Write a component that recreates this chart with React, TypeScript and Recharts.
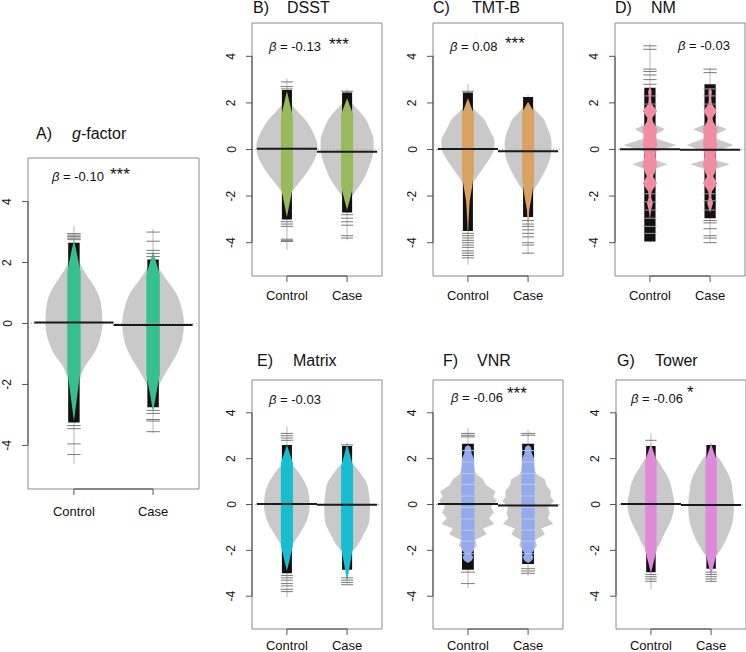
import React from 'react';
import { ComposedChart, XAxis, YAxis, Area, Scatter, ReferenceLine, ReferenceArea } from 'recharts';

type Pair = [number, number];

const groupLabels = ['Control', 'Case'];
const yTickValues = [-4, -2, 0, 2, 4];
const xTickValues = [1, 2];

// ---------- A) g-factor ----------
const gfCtrlDensity: Pair[] = [[-2.6,0],[-2.2,0.03],[-1.8,0.08],[-1.4,0.14],[-1.0,0.25],[-0.5,0.33],[0,0.36],[0.5,0.35],[1.0,0.3],[1.4,0.21],[1.8,0.11],[2.2,0.04],[2.6,0]];
const gfCaseDensity: Pair[] = [[-2.6,0],[-2.2,0.05],[-1.8,0.12],[-1.4,0.21],[-1.0,0.3],[-0.5,0.37],[0,0.39],[0.5,0.36],[1.0,0.29],[1.4,0.18],[1.8,0.08],[2.2,0.02],[2.5,0]];
const gfCtrlBean: Pair[] = [[-3.2,0],[-2.6,0.03],[-2.0,0.06],[-1.55,0.085],[1.7,0.085],[2.2,0.045],[2.75,0]];
const gfCaseBean: Pair[] = [[-2.9,0],[-2.3,0.04],[-1.7,0.085],[1.6,0.085],[2.0,0.04],[2.35,0]];
const gfCtrlRug = [2.95, 2.9, 2.85, 2.8, 2.75, -3.35, -3.45, -3.95, -4.3];
const gfCaseRug = [3.0, 2.7, 2.4, 2.3, 2.2, -2.85, -2.95, -3.15, -3.2, -3.55];
const gfDense: Pair[] = [[-3.25, 2.65], [-2.75, 2.1]];
const gfRange: Pair[] = [[-4.6, 3.2], [-3.6, 3.1]];
const gfMeans = [0.03, -0.05];

// ---------- B) DSST ----------
const dsCtrlDensity: Pair[] = [[-2.2,0],[-1.9,0.06],[-1.6,0.15],[-1.3,0.24],[-0.8,0.38],[-0.3,0.48],[0.1,0.51],[0.6,0.46],[1.0,0.38],[1.3,0.3],[1.6,0.19],[1.9,0.09],[2.2,0.02],[2.4,0]];
const dsCaseDensity: Pair[] = [[-2.4,0],[-2.1,0.06],[-1.8,0.14],[-1.3,0.27],[-0.7,0.37],[0,0.44],[0.4,0.44],[0.9,0.38],[1.3,0.31],[1.6,0.22],[1.9,0.11],[2.2,0.03],[2.4,0]];
const dsCtrlBean: Pair[] = [[-2.9,0],[-1.6,0.1],[1.4,0.1],[2.5,0]];
const dsCaseBean: Pair[] = [[-2.6,0],[-1.6,0.1],[1.5,0.1],[2.2,0]];
const dsCtrlRug = [2.9, 2.7, 2.6, -3.1, -3.2, -3.3, -3.85, -3.9, -3.95];
const dsCaseRug = [2.5, -2.8, -2.95, -3.1, -3.25, -3.7, -3.8];
const dsDense: Pair[] = [[-3.0, 2.55], [-2.7, 2.45]];
const dsRange: Pair[] = [[-4.3, 3.05], [-3.9, 2.6]];
const dsMeans = [0.03, -0.1];

// ---------- C) TMT-B ----------
const tmCtrlDensity: Pair[] = [[-1.8,0],[-1.6,0.04],[-1.3,0.12],[-1.0,0.2],[-0.7,0.28],[-0.3,0.38],[0.1,0.44],[0.4,0.44],[0.7,0.39],[1.0,0.33],[1.3,0.27],[1.6,0.15],[1.9,0.05],[2.1,0]];
const tmCaseDensity: Pair[] = [[-2.1,0],[-1.8,0.08],[-1.3,0.2],[-0.7,0.32],[-0.2,0.38],[0.2,0.39],[0.7,0.36],[1.0,0.31],[1.3,0.26],[1.7,0.12],[2.0,0.03],[2.2,0]];
const tmCtrlBean: Pair[] = [[-3.9,0],[-3.0,0.012],[-2.2,0.03],[-1.6,0.07],[-1.0,0.1],[1.5,0.1],[2.2,0]];
const tmCaseBean: Pair[] = [[-3.6,0],[-2.6,0.02],[-2.0,0.06],[-1.3,0.1],[1.6,0.1],[2.05,0]];
const tmCtrlRug = [2.5, -3.6, -3.7, -3.8, -3.9, -4.0, -4.1, -4.2, -4.35, -4.45, -4.55, -4.65];
const tmCaseRug = [-3.05, -3.2, -3.3, -3.45, -3.6, -3.75, -4.0, -4.1, -4.45];
const tmDense: Pair[] = [[-3.5, 2.45], [-2.9, 2.25]];
const tmRange: Pair[] = [[-4.95, 2.8], [-4.5, 2.35]];
const tmMeans = [0.02, -0.07];

// ---------- D) NM ----------
const nmCtrlDensity: Pair[] = [[-1.1,0],[-0.85,0.08],[-0.63,0.29],[-0.45,0.09],[-0.1,0.1],[0.19,0.44],[0.45,0.12],[0.65,0.1],[0.87,0.25],[1.1,0.06],[1.3,0]];
const nmCaseDensity: Pair[] = [[-1.1,0],[-0.85,0.08],[-0.63,0.33],[-0.45,0.09],[-0.1,0.1],[0.19,0.39],[0.45,0.12],[0.65,0.1],[0.87,0.28],[1.1,0.06],[1.3,0]];
const nmCtrlBean: Pair[] = [[-3.0,0],[-2.6,0.02],[-2.3,0.05],[-2.05,0.02],[-1.8,0.03],[-1.45,0.12],[-1.15,0.05],[-1.0,0.08],[-0.65,0.12],[-0.3,0.09],[0,0.1],[0.2,0.12],[0.5,0.1],[0.9,0.12],[1.2,0.05],[1.35,0.04],[1.65,0.12],[1.95,0.03],[2.2,0.02],[2.5,0.03],[2.7,0]];
const nmCaseBean: Pair[] = [[-2.7,0],[-2.3,0.05],[-2.05,0.02],[-1.8,0.03],[-1.45,0.12],[-1.15,0.05],[-1.0,0.08],[-0.65,0.12],[-0.3,0.09],[0,0.1],[0.2,0.12],[0.5,0.1],[0.9,0.12],[1.2,0.05],[1.35,0.04],[1.65,0.11],[1.95,0.03],[2.2,0.02],[2.5,0.03],[2.65,0]];
const nmCtrlRug = [4.45, 4.3, 3.45, 3.35, 3.2, 3.0, 2.8];
const nmCaseRug = [3.45, 3.3, -3.05, -3.15, -3.4, -3.7, -3.8, -4.0];
const nmCtrlStripes = [-3.6, -3.3, -2.95, -2.6, -2.25, -1.9, 1.95, 2.3];
const nmCaseStripes = [-2.6, -2.2, -1.9, 1.95, 2.3, 2.6];
const nmDense: Pair[] = [[-3.95, 2.65], [-2.95, 2.8]];
const nmRange: Pair[] = [[-4.0, 4.55], [-4.0, 3.5]];
const nmMeans = [0.01, -0.01];

// ---------- E) Matrix ----------
const mxCtrlDensity: Pair[] = [[-2.0,0],[-1.72,0.1],[-1.28,0.21],[-0.7,0.33],[0,0.38],[0.5,0.36],[0.9,0.31],[1.48,0.17],[1.77,0.08],[2.0,0]];
const mxCaseDensity: Pair[] = [[-2.4,0],[-2.15,0.05],[-1.86,0.15],[-1.28,0.28],[-0.7,0.37],[0,0.38],[0.5,0.36],[0.9,0.33],[1.48,0.19],[1.77,0.1],[2.1,0]];
const mxCtrlBean: Pair[] = [[-2.9,0],[-1.8,0.1],[1.8,0.1],[2.6,0]];
const mxCaseBean: Pair[] = [[-3.35,0],[-1.85,0.1],[1.65,0.1],[2.65,0]];
const mxCtrlRug = [3.1, 3.0, 2.9, 2.8, -3.1, -3.2, -3.3, -3.45, -3.55, -3.7, -3.8];
const mxCaseRug = [2.6, -3.2, -3.3, -3.4, -3.5];
const mxDense: Pair[] = [[-3.0, 2.6], [-2.85, 2.55]];
const mxRange: Pair[] = [[-4.05, 3.4], [-3.5, 2.7]];
const mxMeans = [0.02, -0.01];

// ---------- F) VNR ----------
const vnCtrlDensity: Pair[] = [[-2.2,0],[-1.8,0.15],[-1.55,0.12],[-1.3,0.31],[-1.05,0.25],[-0.85,0.44],[-0.6,0.35],[-0.35,0.43],[-0.1,0.38],[0.15,0.48],[0.35,0.42],[0.58,0.46],[0.85,0.3],[1.1,0.25],[1.3,0.15],[1.6,0.08],[1.9,0]];
const vnCaseDensity: Pair[] = [[-2.2,0],[-1.8,0.15],[-1.55,0.12],[-1.3,0.28],[-1.05,0.22],[-0.85,0.42],[-0.6,0.33],[-0.35,0.36],[-0.1,0.33],[0.15,0.43],[0.35,0.37],[0.58,0.38],[0.85,0.3],[1.1,0.28],[1.3,0.15],[1.6,0.08],[1.9,0]];
const vnCtrlBean: Pair[] = [[-2.55,0],[-2.45,0.06],[-2.3,0.09],[-2.15,0.05],[-2.0,0.1],[-1.6,0.11],[1.5,0.11],[1.85,0.1],[2.0,0.1],[2.25,0.06],[2.5,0.05],[2.6,0]];
const vnCaseBean: Pair[] = [[-2.55,0],[-2.45,0.06],[-2.3,0.09],[-2.15,0.05],[-2.0,0.1],[-1.6,0.11],[1.5,0.11],[1.85,0.1],[2.0,0.1],[2.25,0.06],[2.5,0.05],[2.6,0]];
const vnSeparators = [2.35, 1.85, 1.35, 0.87, 0.37, -0.13, -0.63, -1.12, -1.6, -2.15];
const vnCtrlRug = [3.1, 3.02, 2.95, -2.95, -3.45];
const vnCaseRug = [3.1, 3.02, -2.8, -2.9, -3.0];
const vnDense: Pair[] = [[-2.85, 2.65], [-2.6, 2.65]];
const vnRange: Pair[] = [[-3.65, 3.35], [-3.1, 3.25]];
const vnMeans = [0.02, -0.04];

// ---------- G) Tower ----------
const twCtrlDensity: Pair[] = [[-2.2,0],[-1.88,0.11],[-1.3,0.22],[-0.71,0.33],[0,0.39],[0.5,0.36],[1.03,0.31],[1.6,0.19],[2.05,0.08],[2.3,0]];
const twCaseDensity: Pair[] = [[-2.5,0],[-2.3,0.07],[-1.88,0.18],[-1.3,0.29],[-0.71,0.36],[0,0.38],[0.5,0.36],[1.03,0.33],[1.6,0.23],[2.05,0.12],[2.4,0]];
const twCtrlBean: Pair[] = [[-3.0,0],[-2.0,0.095],[1.9,0.095],[2.65,0]];
const twCaseBean: Pair[] = [[-3.1,0],[-2.1,0.095],[1.9,0.095],[2.65,0]];
const twCtrlRug = [2.8, -3.05, -3.15, -3.25, -3.35];
const twCaseRug = [-2.95, -3.05, -3.15, -3.25, -3.35];
const twDense: Pair[] = [[-2.95, 2.55], [-2.8, 2.6]];
const twRange: Pair[] = [[-3.7, 3.1], [-3.4, 2.7]];
const twMeans = [0.02, -0.02];

const FONT = '"Liberation Sans", Arial, Helvetica, sans-serif';
const X_DOMAIN: [number, number] = [0.42, 2.58];
const Y_DOMAIN: [number, number] = [-5.43, 5.43];
const GRAY = '#c9c9c9';

type PanelCfg = {
  letter: string; name: string; italicPrefix?: string; color: string;
  beta: string; stars: string;
  box: { x: number; y: number; w: number; h: number };
  rugHalf: number; curve: 'monotone' | 'linear';
  density: Pair[][]; bean: Pair[][]; rug: number[][]; dense: Pair[]; range: Pair[]; means: number[];
  stripes?: number[][]; stripeColor?: string;
  titleX: [number, number]; titleY: number;
  betaX: number; betaY: number; starsX?: number; starsY?: number;
  labelOffset: number;
};

const panels: PanelCfg[] = [
  { letter: 'A)', name: '-factor', italicPrefix: 'g', color: '#36c08e', beta: '-0.10', stars: '***',
    box: { x: 28, y: 158, w: 171, h: 331 }, rugHalf: 0.085, curve: 'monotone',
    density: [gfCtrlDensity, gfCaseDensity], bean: [gfCtrlBean, gfCaseBean], rug: [gfCtrlRug, gfCaseRug],
    dense: gfDense, range: gfRange, means: gfMeans,
    titleX: [36, 72], titleY: 139, betaX: 52, betaY: 181, starsX: 110, starsY: 179.5, labelOffset: 27 },
  { letter: 'B)', name: 'DSST', color: '#98ba5a', beta: '-0.13', stars: '***',
    box: { x: 252, y: 23, w: 130, h: 253 }, rugHalf: 0.1, curve: 'monotone',
    density: [dsCtrlDensity, dsCaseDensity], bean: [dsCtrlBean, dsCaseBean], rug: [dsCtrlRug, dsCaseRug],
    dense: dsDense, range: dsRange, means: dsMeans,
    titleX: [253, 287], titleY: 13, betaX: 269, betaY: 51, starsX: 329, starsY: 50, labelOffset: 23.5 },
  { letter: 'C)', name: 'TMT-B', color: '#d9a262', beta: '0.08', stars: '***',
    box: { x: 433, y: 23, w: 130, h: 253 }, rugHalf: 0.1, curve: 'monotone',
    density: [tmCtrlDensity, tmCaseDensity], bean: [tmCtrlBean, tmCaseBean], rug: [tmCtrlRug, tmCaseRug],
    dense: tmDense, range: tmRange, means: tmMeans,
    titleX: [433, 472], titleY: 13, betaX: 450, betaY: 51, starsX: 505, starsY: 49, labelOffset: 23.5 },
  { letter: 'D)', name: 'NM', color: '#f08da2', beta: '-0.03', stars: '',
    box: { x: 615, y: 23, w: 130, h: 253 }, rugHalf: 0.11, curve: 'linear',
    density: [nmCtrlDensity, nmCaseDensity], bean: [nmCtrlBean, nmCaseBean], rug: [nmCtrlRug, nmCaseRug],
    dense: nmDense, range: nmRange, means: nmMeans, stripes: [nmCtrlStripes, nmCaseStripes], stripeColor: '#9a9a9a',
    titleX: [615, 651], titleY: 13, betaX: 678, betaY: 50, labelOffset: 23.5 },
  { letter: 'E)', name: 'Matrix', color: '#17bdd1', beta: '-0.03', stars: '',
    box: { x: 252, y: 380, w: 130, h: 249 }, rugHalf: 0.1, curve: 'monotone',
    density: [mxCtrlDensity, mxCaseDensity], bean: [mxCtrlBean, mxCaseBean], rug: [mxCtrlRug, mxCaseRug],
    dense: mxDense, range: mxRange, means: mxMeans,
    titleX: [257, 293], titleY: 366, betaX: 269, betaY: 404, labelOffset: 20.5 },
  { letter: 'F)', name: 'VNR', color: '#93aaee', beta: '-0.06', stars: '***',
    box: { x: 433, y: 380, w: 130, h: 249 }, rugHalf: 0.115, curve: 'linear',
    density: [vnCtrlDensity, vnCaseDensity], bean: [vnCtrlBean, vnCaseBean], rug: [vnCtrlRug, vnCaseRug],
    dense: vnDense, range: vnRange, means: vnMeans, stripes: [vnSeparators, vnSeparators], stripeColor: GRAY,
    titleX: [443, 477], titleY: 366, betaX: 451, betaY: 402, starsX: 507, starsY: 399, labelOffset: 20.5 },
  { letter: 'G)', name: 'Tower', color: '#dd8ad8', beta: '-0.06', stars: '*',
    box: { x: 616, y: 380, w: 130, h: 249 }, rugHalf: 0.095, curve: 'monotone',
    density: [twCtrlDensity, twCaseDensity], bean: [twCtrlBean, twCaseBean], rug: [twCtrlRug, twCaseRug],
    dense: twDense, range: twRange, means: twMeans,
    titleX: [617, 655], titleY: 366, betaX: 631, betaY: 403, starsX: 687, starsY: 397.5, labelOffset: 20.5 },
];

const LEFT = 35;
const TOP = 5;
const RIGHT = 5;
const BOTTOM = 35;

function rangeRows(pairs: Pair[], c: number) {
  return pairs.map(([y, w]) => ({ y, v: [c - w, c + w] }));
}

function Panel({ p }: { p: PanelCfg }) {
  const { box } = p;
  const pxPerUnit = box.w / (X_DOMAIN[1] - X_DOMAIN[0]);
  const rugPx = p.rugHalf * pxPerUnit;
  // the dense rug block is inset by one pixel so the bean fully covers it where it is at full width
  const denseHalf = p.rugHalf - 1 / pxPerUnit;
  const centers = [1, 2];
  const lineShape = (color: string) => (s: any) => (
    <line x1={s.cx - rugPx} x2={s.cx + rugPx} y1={s.cy} y2={s.cy} stroke={color} strokeWidth={1} />
  );
  const xTick = (t: any) => (
    <text x={t.x} y={t.y + p.labelOffset - 6} textAnchor="middle" fontSize={13} fill="#111" fontFamily={FONT}>
      {groupLabels[Math.round(t.payload.value) - 1]}
    </text>
  );
  const yTick = (t: any) => {
    const bx = t.x - 10.5;
    return (
      <text x={bx} y={t.y} transform={`rotate(-90 ${bx} ${t.y})`} textAnchor="middle" fontSize={12} fill="#111" fontFamily={FONT}>
        {t.payload.value}
      </text>
    );
  };
  return (
    <div style={{ position: 'absolute', left: box.x - LEFT, top: box.y - TOP }}>
      <ComposedChart layout="vertical" width={LEFT + box.w + RIGHT} height={TOP + box.h + BOTTOM}
        margin={{ top: TOP, right: RIGHT, bottom: 0, left: 0 }}>
        <XAxis type="number" domain={X_DOMAIN} ticks={xTickValues} allowDataOverflow height={BOTTOM}
          axisLine={false} tickSize={6} tickMargin={0} interval={0} tickLine={{ stroke: '#555' }} tick={xTick} />
        <YAxis type="number" dataKey="y" domain={Y_DOMAIN} ticks={yTickValues} allowDataOverflow width={LEFT} reversed
          axisLine={false} tickSize={6} tickMargin={0} interval={0} tickLine={{ stroke: '#555' }} tick={yTick} />
        <ReferenceLine y={0} stroke="#b0b0b0" strokeDasharray="1 2" />
        {centers.map((c, i) => (
          <Area key={'rng' + i} data={[{ y: p.range[i][0], v: [c, c] }, { y: p.range[i][1], v: [c, c] }]}
            dataKey="v" type="linear" stroke="#cfcfcf" strokeWidth={1} fill="none" isAnimationActive={false} />
        ))}
        {centers.map((c, i) => (
          <Area key={'den' + i} data={rangeRows(p.density[i], c)} dataKey="v" type={p.curve}
            stroke="none" fill={GRAY} fillOpacity={1} isAnimationActive={false} />
        ))}
        {centers.map((c, i) => (
          <Area key={'dense' + i} data={rangeRows([[p.dense[i][0], denseHalf], [p.dense[i][1], denseHalf]], c)}
            dataKey="v" type="linear" stroke="none" fill="#111" fillOpacity={1} isAnimationActive={false} />
        ))}
        {centers.map((c, i) => (
          <Scatter key={'rug' + i} data={p.rug[i].map((y) => ({ x: c, y }))} dataKey="x"
            shape={lineShape('#7a7a7a')} isAnimationActive={false} />
        ))}
        {p.stripes && p.stripeColor !== GRAY && centers.map((c, i) => (
          <Scatter key={'str' + i} data={p.stripes![i].map((y) => ({ x: c, y }))} dataKey="x"
            shape={lineShape(p.stripeColor!)} isAnimationActive={false} />
        ))}
        {centers.map((c, i) => (
          <Area key={'bean' + i} data={rangeRows(p.bean[i], c)} dataKey="v" type="linear"
            stroke="none" fill={p.color} fillOpacity={1} isAnimationActive={false} />
        ))}
        {p.stripes && p.stripeColor === GRAY && centers.map((c, i) => (
          <Scatter key={'sep' + i} data={p.stripes![i].map((y) => ({ x: c, y }))} dataKey="x"
            shape={lineShape(p.stripeColor!)} isAnimationActive={false} />
        ))}
        {centers.map((c, i) => (
          <ReferenceLine key={'mean' + i} segment={[{ x: c - 0.5, y: p.means[i] }, { x: c + 0.5, y: p.means[i] }]}
            stroke="#1a1a1a" strokeWidth={2} />
        ))}
        <ReferenceArea x1={X_DOMAIN[0]} x2={X_DOMAIN[1]} y1={Y_DOMAIN[0]} y2={Y_DOMAIN[1]}
          fill="none" fillOpacity={0} stroke="#8a8a8a" strokeWidth={1} />
        <ReferenceLine segment={[{ x: 1, y: Y_DOMAIN[0] }, { x: 2, y: Y_DOMAIN[0] }]} stroke="#444" />
        <ReferenceLine segment={[{ x: X_DOMAIN[0], y: -4 }, { x: X_DOMAIN[0], y: 4 }]} stroke="#444" />
      </ComposedChart>
    </div>
  );
}

function Texts() {
  return (
    <svg width={746} height={652} style={{ position: 'absolute', left: 0, top: 0, pointerEvents: 'none' }}>
      {panels.map((p) => (
        <g key={p.letter} fontFamily={FONT} fill="#111">
          <text x={p.titleX[0]} y={p.titleY} fontSize={16}>{p.letter}</text>
          <text x={p.titleX[1]} y={p.titleY} fontSize={16}>
            {p.italicPrefix ? <tspan fontStyle="italic">{p.italicPrefix}</tspan> : null}
            {p.name}
          </text>
          <text x={p.betaX} y={p.betaY} fontSize={13}>
            <tspan fontStyle="italic">β</tspan> = {p.beta}
          </text>
          {p.stars ? (
            <text x={p.starsX} y={p.starsY} fontSize={17}>{p.stars}</text>
          ) : null}
        </g>
      ))}
    </svg>
  );
}

export default function App() {
  return (
    <div style={{ position: 'absolute', left: 0, top: 0, width: 746, height: 652, background: '#fff', overflow: 'hidden' }}>
      {panels.map((p) => <Panel key={p.letter} p={p} />)}
      <Texts />
    </div>
  );
}
